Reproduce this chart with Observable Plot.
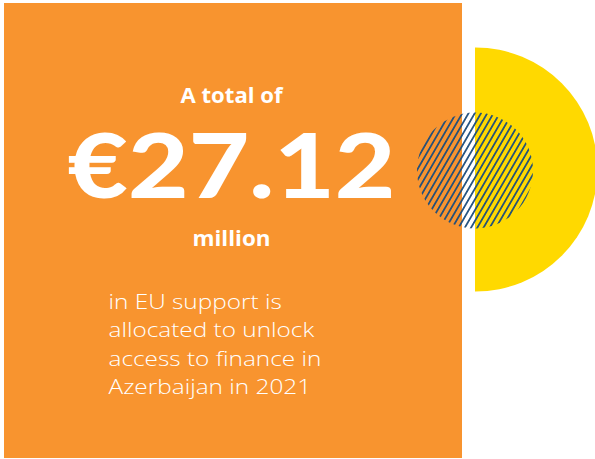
<!DOCTYPE html>
<html>
<head>
<meta charset="utf-8">
<script src="https://cdn.jsdelivr.net/npm/d3@7"></script>
<script src="https://cdn.jsdelivr.net/npm/@observablehq/plot@0.6"></script>
<style>
  html, body { margin: 0; padding: 0; background: #ffffff; }
  #chart { width: 595px; height: 459px; overflow: hidden; }
</style>
</head>
<body>
<div id="chart"></div>
<script>
// ---- data ----
const totalMillionEUR = [27.12];
const country = ["Azerbaijan"];
const year = [2021];
const headline = ["A total of"];
const unit = ["million"];
const bodyLines = [
  "in EU support is",
  "allocated to unlock",
  "access to finance in",
  `${country[0]} in ${year[0]}`
];

// ---- layout ----
const W = 595, H = 459;
const ORANGE = "#f8942f", YELLOW = "#ffd900", NAVY = "#1b4c7c";
const L = {
  card: {x1: 4, x2: 462, y1: 3, y2: 458},
  half: {cx: 475, cy: 169, r: 122},
  gap: {x1: 340, x2: 475, y1: 40, y2: 300},
  hatch: {cx: 474.5, cy: 170, r: 58},
  cx: 231,
  body: {x: 108, y0: 308, dy: 28.5, stretch: 1.16}
};
const one = [0];

const plot = Plot.plot({
  width: W, height: H, margin: 0,
  x: {domain: [0, W], range: [0, W], axis: null},
  y: {domain: [0, H], range: [0, H], axis: null},
  style: {background: "#ffffff", overflow: "hidden"},
  marks: [
    Plot.dot(one, {x: () => L.half.cx, y: () => L.half.cy, r: L.half.r, fill: YELLOW, stroke: null}),
    Plot.rect(one, {x1: () => L.gap.x1, x2: () => L.gap.x2, y1: () => L.gap.y1, y2: () => L.gap.y2, fill: "#ffffff"}),
    Plot.rect(one, {x1: () => L.card.x1, x2: () => L.card.x2, y1: () => L.card.y1, y2: () => L.card.y2, fill: ORANGE}),
    Plot.dot(one, {x: () => L.hatch.cx, y: () => L.hatch.cy, r: L.hatch.r, fill: "url(#hatch)", stroke: null}),
    Plot.text(headline, {x: () => L.cx, y: () => 102, text: d => d, fill: "#ffffff",
      fontSize: 22, fontWeight: 700, fontFamily: "Open Sans", textAnchor: "middle", lineAnchor: "bottom", className: "head"}),
    Plot.text(totalMillionEUR, {x: () => L.cx, y: () => 197, text: d => "€" + d3.format(".2f")(d), fill: "#ffffff",
      fontSize: 89, fontWeight: 900, fontFamily: "Lato", textAnchor: "middle", lineAnchor: "bottom", className: "big"}),
    Plot.text(unit, {x: () => L.cx, y: () => 245, text: d => d, fill: "#ffffff",
      fontSize: 22, fontWeight: 700, fontFamily: "Open Sans", textAnchor: "middle", lineAnchor: "bottom", className: "unit"}),
    Plot.text(bodyLines, {x: () => L.body.x, y: (d, i) => L.body.y0 + i * L.body.dy, text: d => d, fill: "#ffffff",
      fontSize: 21, fontWeight: 300, fontFamily: "Open Sans", textAnchor: "start", lineAnchor: "bottom", className: "body"})
  ]
});

const svg = d3.select(plot);
const defs = svg.insert("defs", ":first-child");
const pat = defs.append("pattern").attr("id", "hatch")
  .attr("patternUnits", "userSpaceOnUse")
  .attr("width", 5.4).attr("height", 5.4)
  .attr("patternTransform", "rotate(30)");
pat.append("line").attr("x1", 2.7).attr("y1", -1).attr("x2", 2.7).attr("y2", 7)
  .attr("stroke", NAVY).attr("stroke-width", 1.7);

svg.selectAll("g.big text").attr("textLength", 328).attr("lengthAdjust", "spacingAndGlyphs");
svg.selectAll("g.head text").attr("textLength", 102).attr("lengthAdjust", "spacingAndGlyphs");
svg.selectAll("g.unit text").attr("textLength", 78).attr("lengthAdjust", "spacingAndGlyphs");

document.getElementById("chart").appendChild(plot);
svg.selectAll("g.body text").each(function() {
  const w = this.getComputedTextLength();
  d3.select(this).attr("textLength", w * L.body.stretch).attr("lengthAdjust", "spacingAndGlyphs");
});
</script>
</body>
</html>
